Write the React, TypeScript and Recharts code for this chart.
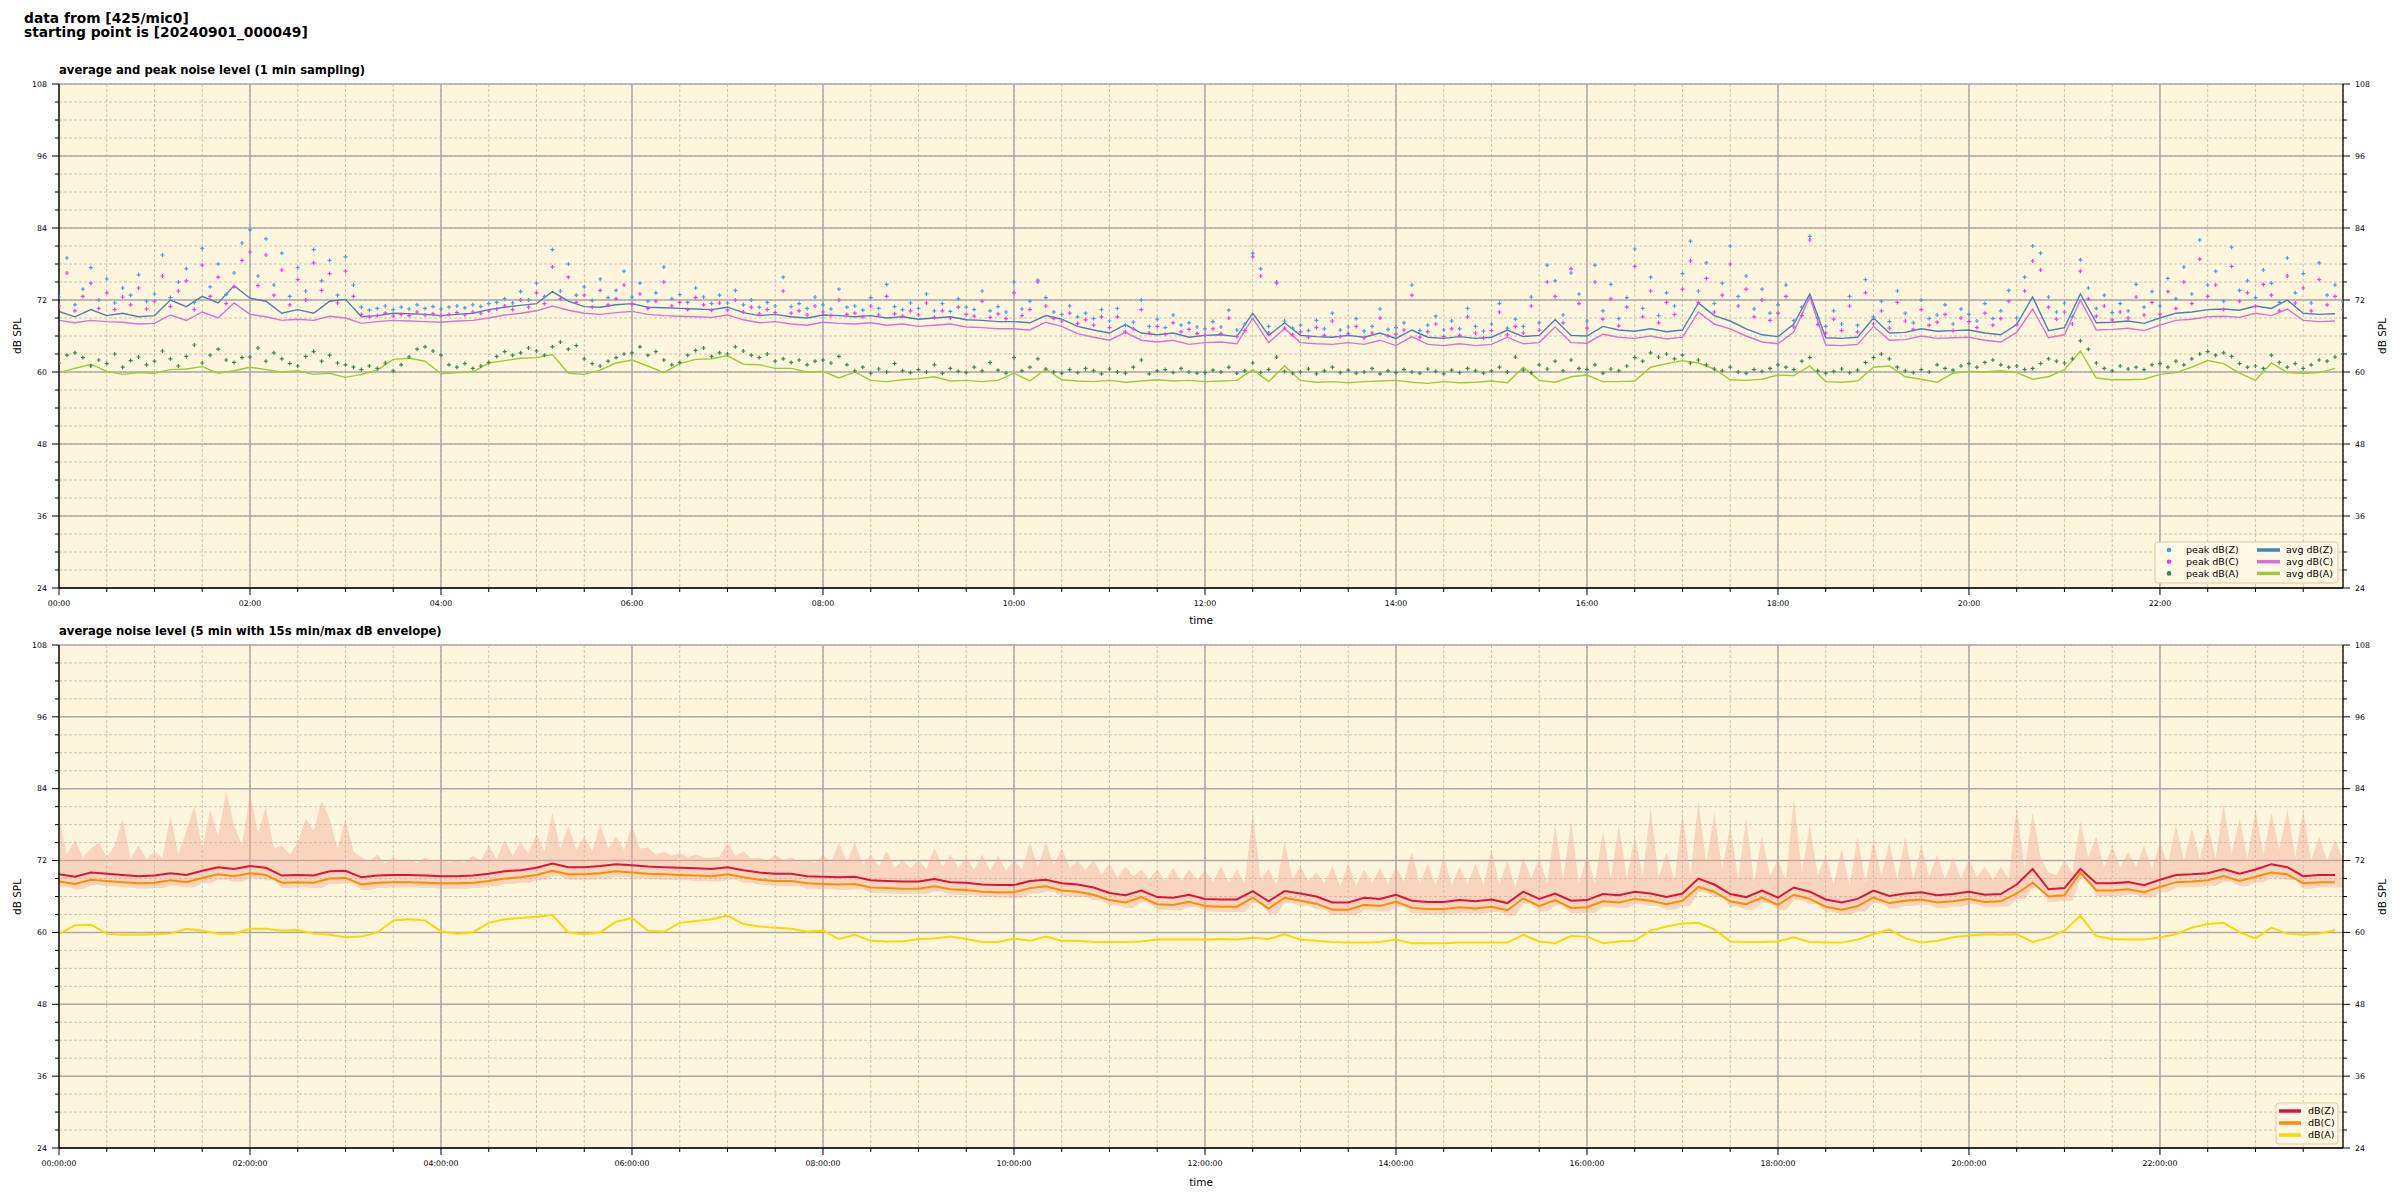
import React from "react";
import {
  ComposedChart,
  Line,
  Scatter,
  Area,
  XAxis,
  YAxis,
  CartesianGrid,
} from "recharts";

// ---- data (10 min steps for averages, 5 min steps for peaks) ----
const STEP = 10;
const PEAK_STEP = 5;
const X_END = 1435;

// top panel: 1 min averages
const AVG_Z = [
  70.1, 69.2, 70.4, 69.4, 69.8, 69.2, 69.4, 72.0, 70.9, 72.6,
  71.5, 74.4, 72.3, 71.8, 69.8, 70.4, 69.8, 71.8, 72.1, 69.2,
  69.4, 69.8, 69.7, 69.6, 69.4, 69.6, 69.8, 70.4, 70.8, 71.1,
  71.4, 73.4, 71.8, 70.9, 70.8, 71.2, 71.4, 70.8, 70.7, 70.6,
  70.5, 70.4, 70.8, 69.9, 69.4, 69.6, 69.2, 69.0, 69.5, 69.4,
  69.2, 69.4, 69.0, 69.2, 68.8, 69.0, 69.2, 68.7, 68.6, 68.4,
  68.4, 68.2, 69.4, 68.8, 67.6, 67.0, 66.5, 67.9, 66.5, 66.2,
  66.5, 65.8, 66.1, 66.2, 65.9, 69.8, 66.1, 68.2, 66.1, 65.9,
  65.8, 66.1, 65.8, 66.5, 65.6, 67.0, 65.8, 65.6, 65.9, 65.6,
  65.8, 67.0, 65.9, 66.1, 68.7, 66.1,
  66.0, 67.6, 67.0, 66.8, 67.2, 66.7, 67.0, 71.5, 69.4, 68.5,
  67.2, 66.2, 65.9, 68.0, 73.0, 65.7, 65.6, 65.8, 69.0, 66.5,
  66.6, 67.2, 66.8, 66.9, 67.0, 66.5, 66.2, 67.9, 72.5, 66.9,
  67.4, 73.0, 68.2, 68.3, 68.5, 68.1, 69.0, 69.8, 70.0, 70.4,
  70.5, 70.3, 71.0, 70.6, 72.0, 69.8, 69.6, 69.7,
];
const AVG_C = [
  68.6, 68.2, 68.6, 68.4, 68.3, 68.0, 68.1, 69.5, 68.6, 70.0,
  69.0, 71.5, 69.6, 69.2, 68.6, 68.8, 68.6, 69.3, 69.0, 68.1,
  68.4, 68.6, 68.5, 68.4, 68.3, 68.5, 68.6, 69.0, 69.5, 69.8,
  70.2, 71.0, 70.3, 69.8, 69.6, 69.9, 70.1, 69.6, 69.4, 69.3,
  69.2, 69.1, 69.5, 68.7, 68.2, 68.4, 68.0, 67.8, 68.3, 68.1,
  68.0, 68.2, 67.8, 68.0, 67.6, 67.8, 68.0, 67.5, 67.4, 67.2,
  67.2, 67.0, 68.3, 67.6, 66.4, 65.8, 65.3, 66.6, 65.3, 65.0,
  65.3, 64.6, 64.9, 65.0, 64.7, 69.0, 64.9, 67.2, 64.9, 64.7,
  64.6, 64.9, 64.6, 65.3, 64.4, 65.9, 64.6, 64.4, 64.7, 64.4,
  64.6, 65.8, 64.7, 64.9, 67.5, 64.9,
  64.8, 66.3, 65.8, 65.6, 66.0, 65.5, 65.8, 70.0, 68.0, 67.2,
  66.0, 65.0, 64.7, 66.7, 72.5, 64.5, 64.4, 64.6, 67.6, 65.3,
  65.4, 66.0, 65.6, 65.7, 65.8, 65.3, 65.0, 66.6, 70.5, 65.7,
  66.2, 72.0, 67.0, 67.1, 67.3, 66.9, 67.8, 68.6, 68.8, 69.2,
  69.3, 69.1, 69.8, 69.4, 70.5, 68.6, 68.4, 68.5,
];
const AVG_A = [
  59.9, 60.6, 61.3, 60.1, 59.6, 59.9, 59.8, 60.4, 60.5, 60.9,
  59.8, 60.2, 60.8, 60.4, 60.0, 60.2, 59.6, 59.8, 59.1, 59.6,
  60.3, 62.1, 62.3, 61.8, 59.7, 59.9, 60.0, 61.5, 61.9, 62.3,
  62.4, 62.9, 59.8, 59.6, 60.3, 61.5, 62.0, 61.0, 59.9, 61.4,
  62.1, 62.2, 62.7, 61.3, 61.2, 60.6, 60.6, 60.0, 60.1, 59.0,
  60.0, 58.6, 58.4, 58.7, 58.9, 59.2, 58.5, 58.6, 58.4, 58.6,
  59.8, 58.5, 60.5, 58.7, 58.5, 58.4, 58.6, 58.3, 58.5, 58.7,
  58.5, 58.6, 58.4, 58.5, 58.6, 60.4, 58.4, 61.0, 58.6, 58.3,
  58.4, 58.2, 58.4, 58.5, 58.6, 58.3, 58.1, 58.4, 58.2, 58.3,
  58.5, 58.2, 60.8, 58.6, 58.3, 59.2,
  59.5, 58.4, 58.4, 58.5, 60.8, 61.4, 61.9, 61.5, 60.5, 58.7,
  58.6, 58.8, 59.5, 59.4, 61.0, 58.4, 58.3, 58.5, 60.8, 61.0,
  59.2, 58.8, 58.3, 59.8, 60.1, 60.0, 60.2, 59.9, 58.8, 59.2,
  60.4, 63.5, 59.0, 58.7, 58.7, 58.8, 59.6, 59.9, 60.8, 61.9,
  61.4, 59.8, 58.6, 61.5, 59.9, 59.8, 59.9, 60.6,
];

// top panel: 1 min peaks (one row per hour)
const PEAK_Z = [
  72.5, 79.0, 71.2, 73.8, 77.4, 72.0, 75.5, 71.5, 74.0, 72.8, 76.2, 71.8,
  73.0, 79.5, 72.4, 75.0, 77.2, 71.6, 80.6, 74.2, 78.0, 72.9, 76.5, 81.5,
  83.7, 76.0, 82.2, 74.5, 79.8, 72.6, 77.4, 73.5, 80.4, 75.2, 78.6, 72.8,
  79.2, 74.5, 70.8, 70.3, 70.6, 71.0, 70.4, 70.8, 70.5, 71.2, 70.6, 70.9,
  70.5, 70.8, 71.0, 70.7, 71.2, 70.9, 71.4, 71.6, 72.2, 71.5, 73.4, 72.0,
  74.8, 72.6, 80.4, 73.5, 78.0, 72.8, 74.2, 71.9, 75.5, 72.4, 73.6, 76.8,
  72.5, 74.8, 71.8, 73.2, 77.5, 72.2, 72.9, 71.6, 74.0, 72.5, 71.4, 72.8,
  71.5, 73.6, 71.2, 72.0, 70.8, 71.6, 71.0, 75.8, 70.9, 71.4, 70.6, 72.5,
  71.2, 70.5, 73.8, 70.8, 71.0, 70.3, 72.4, 70.6, 74.6, 70.9, 70.4, 71.5,
  70.6, 73.0, 70.2, 71.4, 70.1, 72.2, 70.8, 70.4, 73.5, 70.2, 70.9, 70.0,
  75.0, 70.5, 71.8, 75.3, 72.4, 70.0, 69.6, 71.0, 69.2, 69.8, 68.9, 70.4,
  68.5, 70.6, 67.8, 68.3, 72.0, 67.6, 68.8, 67.4, 69.5, 67.8, 68.2, 67.5,
  67.2, 68.4, 67.5, 70.3, 67.0, 68.0, 79.8, 77.2, 67.6, 75.0, 68.5, 67.3,
  67.8, 66.9, 68.6, 67.2, 69.8, 67.0, 67.5, 68.9, 66.8, 67.6, 70.5, 67.1,
  67.4, 68.2, 74.5, 66.9, 67.8, 69.3, 67.0, 68.5, 67.2, 70.6, 67.6, 66.8,
  68.0, 71.4, 67.3, 68.8, 67.6, 72.5, 68.2, 77.8, 75.2, 69.5, 76.5, 73.0,
  68.5, 77.8, 70.2, 74.6, 68.9, 72.4, 80.5, 70.6, 75.8, 69.4, 73.2, 71.0,
  76.4, 81.8, 73.5, 78.2, 71.4, 74.8, 81.0, 72.6, 76.0, 70.5, 73.8, 69.8,
  71.2, 74.5, 68.6, 70.8, 82.6, 69.0, 67.6, 70.2, 68.0, 72.6, 67.8, 75.4,
  69.2, 71.8, 68.4, 73.5, 69.8, 68.2, 72.0, 68.9, 69.5, 71.2, 68.0, 70.5,
  69.6, 68.5, 71.4, 68.9, 70.2, 73.6, 69.0, 75.8, 81.0, 79.8, 72.5, 70.0,
  71.5, 69.2, 78.7, 74.0, 70.6, 72.8, 69.9, 71.4, 70.2, 74.6, 70.8, 73.4,
  71.0, 75.6, 72.2, 77.5, 73.0, 82.0, 74.5, 76.8, 71.8, 80.8, 73.6, 75.2,
  72.4, 77.0, 74.8, 71.6, 79.0, 73.2, 76.4, 71.5, 78.2, 72.8, 74.5, 71.8,
];
const PEAK_C = [
  71.0, 76.5, 70.2, 72.6, 74.8, 70.6, 73.2, 70.4, 72.5, 71.2, 74.0, 70.5,
  71.8, 76.0, 70.9, 73.5, 75.2, 70.4, 77.8, 72.6, 75.8, 71.4, 74.2, 78.6,
  80.0, 74.4, 79.5, 72.8, 77.0, 71.2, 75.4, 72.0, 78.2, 73.6, 76.4, 71.5,
  76.8, 72.6, 69.6, 69.2, 69.4, 69.8, 69.3, 69.6, 69.4, 70.0, 69.5, 69.7,
  69.4, 69.6, 69.9, 69.5, 70.0, 69.8, 70.2, 70.5, 71.0, 70.4, 72.0, 70.8,
  73.2, 71.4, 77.5, 72.2, 75.8, 71.6, 72.8, 70.8, 73.6, 71.2, 72.2, 74.5,
  71.3, 73.0, 70.6, 71.8, 75.0, 71.0, 71.6, 70.4, 72.4, 71.2, 70.3, 71.5,
  70.3, 72.0, 70.0, 70.8, 69.7, 70.4, 69.9, 73.5, 69.8, 70.2, 69.5, 71.0,
  70.0, 69.4, 72.0, 69.6, 69.8, 69.2, 71.0, 69.5, 72.6, 69.7, 69.3, 70.2,
  69.5, 71.5, 69.1, 70.2, 69.0, 70.8, 69.6, 69.3, 71.8, 69.1, 69.7, 68.9,
  73.2, 69.4, 70.4, 75.0, 71.0, 68.9, 68.5, 69.8, 68.1, 68.7, 67.8, 69.2,
  67.4, 69.2, 66.7, 67.2, 70.4, 66.5, 67.6, 66.3, 68.2, 66.7, 67.1, 66.4,
  66.1, 67.2, 66.4, 69.0, 65.9, 66.9, 79.2, 76.0, 66.5, 74.8, 67.3, 66.2,
  66.7, 65.8, 67.4, 66.1, 68.5, 65.9, 66.4, 67.6, 65.7, 66.5, 69.0, 66.0,
  66.3, 67.0, 72.8, 65.8, 66.7, 68.0, 65.9, 67.2, 66.1, 69.2, 66.5, 65.7,
  66.9, 70.0, 66.2, 67.6, 66.5, 71.0, 67.0, 75.0, 72.6, 68.2, 77.2, 71.4,
  67.3, 75.0, 68.8, 72.2, 67.7, 70.8, 77.6, 69.2, 73.5, 68.2, 71.6, 69.6,
  73.8, 78.5, 71.6, 75.6, 70.0, 72.8, 78.0, 71.0, 73.8, 69.2, 72.0, 68.6,
  69.8, 72.6, 67.5, 69.4, 82.0, 67.9, 66.5, 68.8, 66.9, 71.0, 66.7, 73.2,
  68.0, 70.2, 67.3, 71.6, 68.5, 67.1, 70.4, 67.8, 68.3, 69.6, 66.9, 69.0,
  68.4, 67.4, 69.8, 67.8, 68.9, 71.8, 67.9, 73.5, 78.5, 77.0, 70.8, 68.8,
  70.0, 68.0, 76.8, 72.2, 69.3, 71.0, 68.7, 70.0, 69.0, 72.5, 69.5, 71.6,
  69.6, 73.4, 70.6, 75.0, 71.4, 78.8, 72.6, 74.5, 70.4, 77.6, 71.8, 73.2,
  70.9, 74.6, 72.8, 70.2, 76.0, 71.5, 74.0, 70.2, 75.4, 71.2, 72.6, 70.4,
];
const PEAK_A = [
  61.5, 62.8, 63.2, 62.4, 61.0, 62.0, 61.4, 63.0, 60.8, 61.9, 62.5, 61.2,
  61.8, 63.5, 62.2, 61.0, 62.6, 64.5, 61.5, 62.8, 63.8, 62.0, 61.6, 62.4,
  62.5, 64.0, 61.8, 63.2, 62.2, 61.4, 61.0, 62.6, 63.4, 61.8, 62.8, 61.5,
  61.2, 60.8, 60.4, 61.0, 60.6, 61.5, 60.2, 61.2, 62.5, 63.8, 64.2, 63.5,
  62.8, 61.2, 60.8, 61.4, 60.6, 61.0, 61.6, 62.6, 63.4, 62.8, 63.2, 64.0,
  63.5, 62.8, 64.2, 65.0, 63.8, 64.4, 62.2, 61.4, 61.0, 61.8, 62.4, 63.0,
  63.2, 64.2, 62.8, 63.4, 62.0, 61.2, 61.6, 62.8, 63.6, 64.0, 62.6, 63.2,
  63.0, 64.2, 63.5, 62.8, 62.4, 63.0, 61.8, 62.2, 61.6, 62.0, 61.2, 61.8,
  62.0, 61.5, 62.6, 61.2, 60.2, 60.8, 59.8, 60.5, 60.0, 61.4, 60.2, 59.9,
  60.4, 60.0, 61.2, 59.8, 60.6, 60.1, 59.9, 60.8, 60.2, 61.6, 60.3, 59.8,
  62.4, 60.2, 60.8, 62.2, 60.5, 60.0, 59.8, 60.4, 59.9, 60.6, 60.2, 59.7,
  60.5, 60.0, 59.8, 60.8, 62.0, 59.7, 60.2, 60.4, 59.9, 60.6, 60.0, 59.8,
  59.9, 60.3, 60.0, 60.8, 59.8, 60.2, 61.5, 59.9, 60.4, 62.5, 60.1, 59.8,
  60.0, 60.5, 59.7, 60.2, 60.8, 59.9, 60.3, 59.8, 60.0, 60.6, 59.7, 60.2,
  59.9, 60.4, 60.0, 59.8, 60.5, 60.1, 59.7, 60.3, 59.9, 60.6, 60.2, 59.8,
  60.2, 60.8, 60.0, 62.5, 60.3, 59.9, 61.2, 60.5, 61.8, 60.2, 62.0, 60.6,
  60.4, 61.2, 59.8, 60.5, 60.2, 61.0, 62.4, 61.8, 63.2, 62.5, 63.0, 62.2,
  62.8, 61.5, 62.0, 61.2, 60.5, 60.2, 60.8, 60.0, 59.8, 60.4, 60.1, 60.6,
  61.2, 60.8, 60.4, 61.8, 62.4, 60.2, 59.8, 60.1, 60.5, 59.9, 60.3, 61.6,
  62.4, 63.0, 62.2, 60.8, 60.2, 59.9, 60.4, 60.0, 61.2, 60.6, 60.3, 61.0,
  61.4, 60.8, 61.6, 62.0, 61.2, 60.8, 61.0, 60.4, 60.6, 61.4, 62.2, 61.8,
  61.5, 62.2, 65.2, 63.8, 61.5, 60.6, 60.2, 61.0, 60.5, 60.8, 60.4, 61.2,
  61.4, 60.8, 61.8, 61.2, 62.2, 63.0, 63.4, 62.8, 63.2, 62.6, 61.4, 60.8,
  61.0, 60.6, 62.8, 61.6, 60.8, 61.4, 60.6, 61.2, 62.0, 61.8, 62.5, 63.0,
];

// bottom panel: 5 min averages (10 min steps) and 15 s min/max envelope
const DB_Z = [
  69.7, 69.3, 70.0, 69.8, 69.6, 69.4, 69.5, 69.9, 69.6, 70.3,
  70.9, 70.6, 71.1, 70.8, 69.5, 69.6, 69.5, 70.2, 70.3, 69.2,
  69.5, 69.6, 69.6, 69.5, 69.4, 69.4, 69.5, 69.8, 70.2, 70.4,
  70.8, 71.5, 70.9, 70.9, 71.1, 71.4, 71.2, 71.0, 70.9, 70.8,
  70.7, 70.6, 70.9, 70.4, 70.0, 69.8, 69.8, 69.4, 69.3, 69.2,
  69.3, 68.7, 68.6, 68.5, 68.5, 68.9, 68.4, 68.3, 68.0, 67.9,
  67.9, 68.6, 68.8, 68.2, 68.0, 67.5, 66.6, 66.2, 67.0, 65.9,
  65.8, 66.3, 65.6, 65.5, 65.5, 66.9, 65.2, 66.9, 66.5, 66.0,
  65.0, 65.0, 65.8, 65.6, 66.3, 65.3, 65.1, 65.1, 65.4, 65.2,
  65.5, 64.9, 66.8, 65.6, 66.5, 65.3,
  65.4, 66.4, 66.2, 66.8, 66.5, 65.9, 66.5, 69.0, 68.0, 66.4,
  65.9, 67.0, 65.8, 67.5, 66.8, 65.5, 65.0, 65.6, 67.0, 66.1,
  66.5, 66.7, 66.2, 66.4, 66.8, 66.3, 66.4, 68.0, 70.6, 67.2,
  67.4, 70.6, 68.2, 68.2, 68.4, 67.9, 68.8, 69.6, 69.7, 69.9,
  70.6, 69.8, 70.5, 71.4, 70.9, 69.4, 69.6, 69.6,
];
const DB_C = [
  68.5, 68.1, 68.8, 68.6, 68.4, 68.2, 68.3, 68.7, 68.4, 69.1,
  69.7, 69.4, 69.9, 69.6, 68.3, 68.4, 68.3, 69.0, 69.1, 68.0,
  68.3, 68.4, 68.4, 68.3, 68.2, 68.2, 68.3, 68.6, 69.0, 69.2,
  69.6, 70.3, 69.7, 69.7, 69.9, 70.2, 70.0, 69.8, 69.7, 69.6,
  69.5, 69.4, 69.7, 69.2, 68.8, 68.6, 68.6, 68.2, 68.1, 68.0,
  68.1, 67.5, 67.4, 67.3, 67.3, 67.7, 67.2, 67.1, 66.8, 66.7,
  66.7, 67.4, 67.7, 67.0, 66.8, 66.3, 65.4, 65.0, 65.9, 64.7,
  64.6, 65.1, 64.4, 64.3, 64.3, 65.8, 64.0, 65.8, 65.3, 64.8,
  63.8, 63.8, 64.6, 64.4, 65.1, 64.1, 63.9, 63.9, 64.2, 64.0,
  64.3, 63.7, 65.7, 64.4, 65.4, 64.1,
  64.2, 65.2, 65.0, 65.6, 65.3, 64.7, 65.3, 67.6, 66.8, 65.2,
  64.7, 65.8, 64.6, 66.3, 65.6, 64.3, 63.8, 64.4, 65.8, 64.9,
  65.3, 65.5, 65.0, 65.2, 65.6, 65.1, 65.2, 66.5, 68.3, 66.0,
  66.2, 70.0, 67.0, 67.0, 67.2, 66.7, 67.6, 68.4, 68.5, 68.7,
  69.4, 68.6, 69.3, 70.0, 69.7, 68.2, 68.4, 68.4,
];
const DB_A = [
  59.7, 61.2, 61.3, 59.8, 59.6, 59.6, 59.7, 59.8, 60.6, 60.3,
  59.8, 59.8, 60.6, 60.6, 60.3, 60.4, 59.8, 59.6, 59.2, 59.3,
  60.0, 62.0, 62.2, 62.0, 60.2, 59.8, 60.0, 61.6, 62.2, 62.4,
  62.6, 62.9, 60.0, 59.7, 60.0, 61.8, 62.4, 60.3, 60.1, 61.6,
  61.9, 62.2, 62.8, 61.4, 61.0, 60.8, 60.6, 60.1, 60.3, 58.9,
  59.6, 58.6, 58.5, 58.5, 58.9, 59.0, 59.3, 58.9, 58.4, 58.4,
  59.0, 58.6, 59.3, 58.6, 58.6, 58.4, 58.4, 58.4, 58.5, 58.8,
  58.8, 58.8, 58.8, 58.9, 58.8, 59.1, 58.9, 59.7, 58.8, 58.6,
  58.4, 58.3, 58.3, 58.4, 58.8, 58.2, 58.2, 58.2, 58.3, 58.3,
  58.3, 58.3, 59.6, 58.5, 58.2, 59.4,
  59.3, 58.2, 58.5, 58.6, 60.3, 61.0, 61.5, 61.6, 60.5, 58.5,
  58.4, 58.4, 58.5, 59.2, 58.4, 58.3, 58.3, 58.8, 59.7, 60.5,
  59.0, 58.3, 58.6, 59.2, 59.5, 59.7, 59.6, 59.7, 58.4, 59.1,
  60.3, 62.8, 59.4, 58.9, 58.8, 58.8, 59.2, 59.7, 60.8, 61.4,
  61.6, 60.0, 59.0, 60.8, 59.8, 59.6, 59.8, 60.4,
];
const ENV_LO = [
  67.6, 67.2, 67.9, 67.7, 67.5, 67.3, 67.4, 67.8, 67.5, 68.2,
  68.8, 68.5, 69.0, 68.7, 67.4, 67.5, 67.4, 68.1, 68.2, 67.1,
  67.4, 67.5, 67.5, 67.4, 67.3, 67.3, 67.4, 67.7, 68.1, 68.3,
  68.7, 69.4, 68.8, 68.8, 69.0, 69.3, 69.1, 68.9, 68.8, 68.7,
  68.6, 68.5, 68.8, 68.3, 67.9, 67.7, 67.7, 67.3, 67.2, 67.1,
  67.2, 66.6, 66.5, 66.4, 66.4, 66.8, 66.3, 66.2, 65.9, 65.8,
  65.8, 66.5, 66.8, 66.1, 65.9, 65.4, 64.5, 64.1, 65.0, 63.8,
  63.7, 64.2, 63.5, 63.4, 63.4, 64.9, 63.1, 64.9, 64.4, 63.9,
  62.9, 62.9, 63.7, 63.5, 64.2, 63.2, 63.0, 63.0, 63.3, 63.1,
  63.4, 62.8, 64.8, 63.5, 64.5, 63.2,
  63.3, 64.3, 64.1, 64.7, 64.4, 63.8, 64.4, 66.7, 65.9, 64.3,
  63.8, 64.9, 63.7, 65.4, 64.7, 63.4, 62.9, 63.5, 64.9, 64.0,
  64.4, 64.6, 64.1, 64.3, 64.7, 64.2, 64.3, 65.6, 67.4, 65.1,
  65.3, 69.1, 66.1, 66.1, 66.3, 65.8, 66.7, 67.5, 67.6, 67.8,
  68.5, 67.7, 68.4, 69.1, 68.8, 67.3, 67.5, 67.5,
];
// envelope top, 5 min steps (one row per hour)
const ENV_HI = [
  79.0, 73.0, 75.5, 72.5, 74.0, 75.0, 72.6, 74.5, 79.0, 72.4, 74.5, 72.2,
  73.5, 72.4, 79.4, 73.0, 77.0, 81.0, 74.0, 80.5, 76.0, 83.6, 78.0, 74.5,
  83.3, 76.5, 81.0, 74.0, 74.5, 73.0, 75.0, 79.0, 77.0, 82.0, 79.0, 74.0,
  79.0, 73.5, 72.5, 71.8, 73.0, 71.5, 72.5, 71.8, 72.2, 71.6, 72.5, 71.7,
  72.3, 71.6, 72.0, 71.7, 72.8, 72.0, 74.5, 72.2, 75.5, 72.8, 75.0, 73.2,
  76.5, 73.5, 80.0, 74.0, 77.8, 73.8, 76.0, 73.5, 78.0, 74.0, 76.0, 73.8,
  78.0, 74.0, 74.2, 73.0, 73.5, 72.8, 73.3, 72.6, 73.0, 72.5, 72.5, 72.6,
  75.0, 72.8, 73.5, 72.4, 72.5, 72.0, 73.0, 72.0, 72.5, 71.8, 72.0, 71.6,
  73.0, 71.6, 75.0, 71.8, 75.0, 71.4, 73.0, 71.0, 73.6, 70.8, 72.0, 70.8,
  72.0, 70.6, 74.2, 71.0, 73.0, 70.8, 72.5, 70.5, 73.0, 70.4, 72.8, 70.4,
  72.0, 70.5, 75.0, 71.0, 75.0, 71.2, 74.0, 70.8, 72.0, 70.4, 72.2, 69.6,
  71.5, 69.2, 71.0, 69.4, 70.5, 68.8, 70.6, 68.6, 70.8, 68.6, 70.5, 68.8,
  70.4, 68.4, 71.0, 68.2, 70.5, 68.2, 80.0, 69.0, 70.5, 68.0, 75.0, 69.0,
  71.0, 68.6, 70.0, 68.2, 71.0, 67.8, 71.5, 67.8, 70.5, 68.2, 70.8, 68.0,
  71.0, 68.5, 73.6, 68.0, 71.5, 67.8, 72.8, 67.8, 71.0, 68.0, 71.5, 67.8,
  73.9, 68.0, 72.0, 67.6, 72.5, 69.0, 72.5, 68.2, 78.0, 69.0, 78.5, 68.0,
  73.0, 68.2, 77.0, 69.0, 78.0, 69.0, 76.0, 69.5, 81.0, 69.2, 73.3, 68.8,
  80.0, 69.5, 82.0, 71.5, 80.0, 70.5, 78.0, 69.0, 79.0, 68.6, 76.0, 69.5,
  72.2, 68.5, 82.5, 70.0, 78.0, 69.5, 72.8, 68.0, 74.0, 67.8, 76.0, 68.2,
  75.5, 69.5, 75.0, 68.8, 76.0, 69.0, 74.5, 69.2, 73.0, 68.8, 72.5, 69.0,
  72.2, 69.2, 71.0, 68.8, 71.0, 69.0, 81.0, 70.5, 80.0, 72.5, 70.0, 69.6,
  72.0, 70.0, 78.5, 72.5, 76.0, 70.8, 74.5, 70.8, 73.5, 71.0, 74.5, 70.6,
  75.0, 71.4, 78.0, 72.0, 77.5, 72.2, 78.0, 72.4, 81.5, 73.0, 79.0, 72.4,
  80.5, 73.0, 80.0, 73.8, 80.5, 72.6, 80.3, 72.0, 76.0, 72.0, 75.5, 72.0,
];

const X_TICKS = Array.from({ length: 48 }, (_, i) => i * 30);
const X_MAJOR = X_TICKS.filter((t) => t % 120 === 0);
const Y_TICKS = Array.from({ length: 29 }, (_, i) => 24 + i * 3);
const Y_MAJOR = Y_TICKS.filter((v) => v % 12 === 0);

// ---- styling ----
const FONT = "DejaVu Sans, sans-serif";
const BG = "#fef6dc";
const COL = {
  peakZ: "#3d9ff0",
  peakC: "#ff33f0",
  peakA: "#2e8b57",
  avgZ: "#4682b4",
  avgC: "#da70d6",
  avgA: "#9acd32",
  dbZ: "#dc143c",
  dbC: "#ff8c00",
  dbA: "#ffd700",
  env: "#f0a890",
};

const avgRows = AVG_Z.map((z, i) => ({ t: i * STEP, z, c: AVG_C[i], a: AVG_A[i] }));
// bottom rows on the 5 min grid; averages only exist on every second row
const dbRows = ENV_HI.map((hi, i) => {
  const j = Math.floor((i * PEAK_STEP) / STEP);
  const onStep = (i * PEAK_STEP) % STEP === 0;
  return {
    t: i * PEAK_STEP,
    z: onStep ? DB_Z[j] : null,
    c: onStep ? DB_C[j] : null,
    a: onStep ? DB_A[j] : null,
    env: [ENV_LO[j], hi],
  };
});
const peakRows = (arr: number[]) => arr.map((v, i) => ({ t: i * PEAK_STEP, v }));

const pad = (n: number) => String(n).padStart(2, "0");
const hhmm = (m: number) => `${pad(Math.floor(m / 60))}:${pad(m % 60)}`;
const hhmmss = (m: number) => `${hhmm(m)}:00`;

// ticks: long with label on majors, short on minors
const xTick = (fmt: (m: number) => string) => (p: any) => {
  const major = p.payload.value % 120 === 0;
  return (
    <g>
      <line x1={p.x} x2={p.x} y1={p.y} y2={p.y + (major ? 7 : 4)} stroke="#000" strokeWidth={1} />
      {major && (
        <text x={p.x} y={p.y + 18} textAnchor="middle" fontSize={7.8} fontFamily={FONT} fill="#000">
          {fmt(p.payload.value)}
        </text>
      )}
    </g>
  );
};

const yTick = (side: "left" | "right") => (p: any) => {
  const major = p.payload.value % 12 === 0;
  const len = major ? 7 : 4;
  const dir = side === "left" ? -1 : 1;
  return (
    <g>
      <line x1={p.x} x2={p.x + dir * len} y1={p.y} y2={p.y} stroke="#000" strokeWidth={1} />
      {major && (
        <text
          x={p.x + dir * 12}
          y={p.y}
          dy="0.35em"
          textAnchor={side === "left" ? "end" : "start"}
          fontSize={7.8}
          fontFamily={FONT}
          fill="#000"
        >
          {p.payload.value}
        </text>
      )}
    </g>
  );
};

const plus = (color: string) => (p: any) => (
  <path
    d={`M${p.cx - 2},${p.cy}h4M${p.cx},${p.cy - 2}v4`}
    stroke={color}
    strokeWidth={1.2}
    fill="none"
  />
);

const spine = { stroke: "#000", strokeWidth: 1.3 };

// grids and axes shared by both panels
const frame = (fmt: (m: number) => string) => [
  <CartesianGrid
    key="gmin"
    fill={BG}
    fillOpacity={1}
    stroke="#bdb8ad"
    strokeWidth={0.8}
    strokeDasharray="3 2"
  />,
  <CartesianGrid
    key="gmaj"
    stroke="#aaaaaa"
    strokeWidth={1.5}
    horizontalValues={Y_MAJOR}
    verticalValues={X_MAJOR}
  />,
  <XAxis
    key="x"
    dataKey="t"
    type="number"
    domain={[0, X_END]}
    allowDataOverflow
    ticks={X_TICKS}
    interval={0}
    tickSize={0}
    tickMargin={0}
    tickLine={false}
    tick={xTick(fmt)}
    axisLine={spine}
    height={52}
  />,
  <XAxis
    key="xt"
    xAxisId="top"
    orientation="top"
    type="number"
    domain={[0, X_END]}
    height={0}
    tick={false}
    tickLine={false}
    axisLine={spine}
  />,
  <YAxis
    key="y"
    type="number"
    domain={[24, 108]}
    allowDataOverflow
    ticks={Y_TICKS}
    interval={0}
    width={59}
    tickSize={0}
    tickMargin={0}
    tickLine={false}
    tick={yTick("left")}
    axisLine={spine}
  />,
  <YAxis
    key="yr"
    yAxisId="r"
    orientation="right"
    type="number"
    domain={[24, 108]}
    allowDataOverflow
    ticks={Y_TICKS}
    interval={0}
    width={57}
    tickSize={0}
    tickMargin={0}
    tickLine={false}
    tick={yTick("right")}
    axisLine={spine}
  />,
];

const TopChart = () => (
  <ComposedChart
    width={2400}
    height={640}
    data={avgRows}
    margin={{ top: 84, right: 0, bottom: 0, left: 0 }}
  >
    {frame(hhmm)}
    <Scatter data={peakRows(PEAK_Z)} dataKey="v" shape={plus(COL.peakZ)} isAnimationActive={false} />
    <Scatter data={peakRows(PEAK_C)} dataKey="v" shape={plus(COL.peakC)} isAnimationActive={false} />
    <Scatter data={peakRows(PEAK_A)} dataKey="v" shape={plus(COL.peakA)} isAnimationActive={false} />
    <Line dataKey="z" stroke={COL.avgZ} strokeWidth={1.4} dot={false} isAnimationActive={false} />
    <Line dataKey="c" stroke={COL.avgC} strokeWidth={1.4} dot={false} isAnimationActive={false} />
    <Line dataKey="a" stroke={COL.avgA} strokeWidth={1.4} dot={false} isAnimationActive={false} />
  </ComposedChart>
);

const BottomChart = () => (
  <ComposedChart
    width={2400}
    height={600}
    data={dbRows}
    margin={{ top: 45, right: 0, bottom: 0, left: 0 }}
  >
    {frame(hhmmss)}
    <Area dataKey="env" stroke="none" fill={COL.env} fillOpacity={0.42} isAnimationActive={false} />
    <Line dataKey="z" connectNulls stroke={COL.dbZ} strokeWidth={2} dot={false} isAnimationActive={false} />
    <Line dataKey="c" connectNulls stroke={COL.dbC} strokeWidth={2} dot={false} isAnimationActive={false} />
    <Line dataKey="a" connectNulls stroke={COL.dbA} strokeWidth={2} dot={false} isAnimationActive={false} />
  </ComposedChart>
);

const legendText = { fontSize: 9.5, fontFamily: FONT, fill: "#000" };

const Overlay = () => (
  <svg
    width={2400}
    height={1200}
    style={{ position: "absolute", left: 0, top: 0, pointerEvents: "none" }}
  >
    <g fontFamily={FONT} fontWeight="bold" fill="#000">
      <text x={24} y={23.3} fontSize={13.8}>data from [425/mic0]</text>
      <text x={24} y={37.3} fontSize={13.8}>starting point is [20240901_000049]</text>
      <text x={59} y={74} fontSize={11.6}>average and peak noise level (1 min sampling)</text>
      <text x={59} y={635} fontSize={11.6}>average noise level (5 min with 15s min/max dB envelope)</text>
    </g>
    <g fontFamily={FONT} fontSize={10.5} fill="#000" textAnchor="middle">
      <text x={1201} y={624}>time</text>
      <text x={1201} y={1186}>time</text>
      <text transform="translate(21,336) rotate(-90)">dB SPL</text>
      <text transform="translate(2386,336) rotate(-90)">dB SPL</text>
      <text transform="translate(21,897) rotate(-90)">dB SPL</text>
      <text transform="translate(2386,897) rotate(-90)">dB SPL</text>
    </g>

    {/* legend, top panel */}
    <rect x={2155} y={542} width={183} height={41} rx={3} fill="#fff8e4" stroke="#dcc9a3" strokeWidth={1} />
    {[
      ["peak dB(Z)", COL.peakZ, "avg dB(Z)", COL.avgZ],
      ["peak dB(C)", COL.peakC, "avg dB(C)", COL.avgC],
      ["peak dB(A)", COL.peakA, "avg dB(A)", COL.avgA],
    ].map(([l1, c1, l2, c2], i) => {
      const y = 550 + i * 11.7;
      return (
        <g key={l1}>
          <circle cx={2169} cy={y} r={2.3} fill={c1} />
          <text x={2186} y={y} dy="0.35em" {...legendText}>{l1}</text>
          <line x1={2257} x2={2280} y1={y} y2={y} stroke={c2} strokeWidth={3.5} />
          <text x={2286} y={y} dy="0.35em" {...legendText}>{l2}</text>
        </g>
      );
    })}

    {/* legend, bottom panel */}
    <rect x={2276} y={1103} width={62} height={41} rx={3} fill="#fff8e4" stroke="#dcc9a3" strokeWidth={1} />
    {[
      ["dB(Z)", COL.dbZ],
      ["dB(C)", COL.dbC],
      ["dB(A)", COL.dbA],
    ].map(([l, c], i) => {
      const y = 1111 + i * 12;
      return (
        <g key={l}>
          <line x1={2279} x2={2301} y1={y} y2={y} stroke={c} strokeWidth={3.5} />
          <text x={2308} y={y} dy="0.35em" {...legendText}>{l}</text>
        </g>
      );
    })}
  </svg>
);

export default function App() {
  return (
    <div
      style={{
        position: "absolute",
        left: 0,
        top: 0,
        width: 2400,
        height: 1200,
        background: "#fff",
        overflow: "hidden",
      }}
    >
      <div style={{ position: "absolute", left: 0, top: 0 }}>
        <TopChart />
      </div>
      <div style={{ position: "absolute", left: 0, top: 600 }}>
        <BottomChart />
      </div>
      <Overlay />
    </div>
  );
}
